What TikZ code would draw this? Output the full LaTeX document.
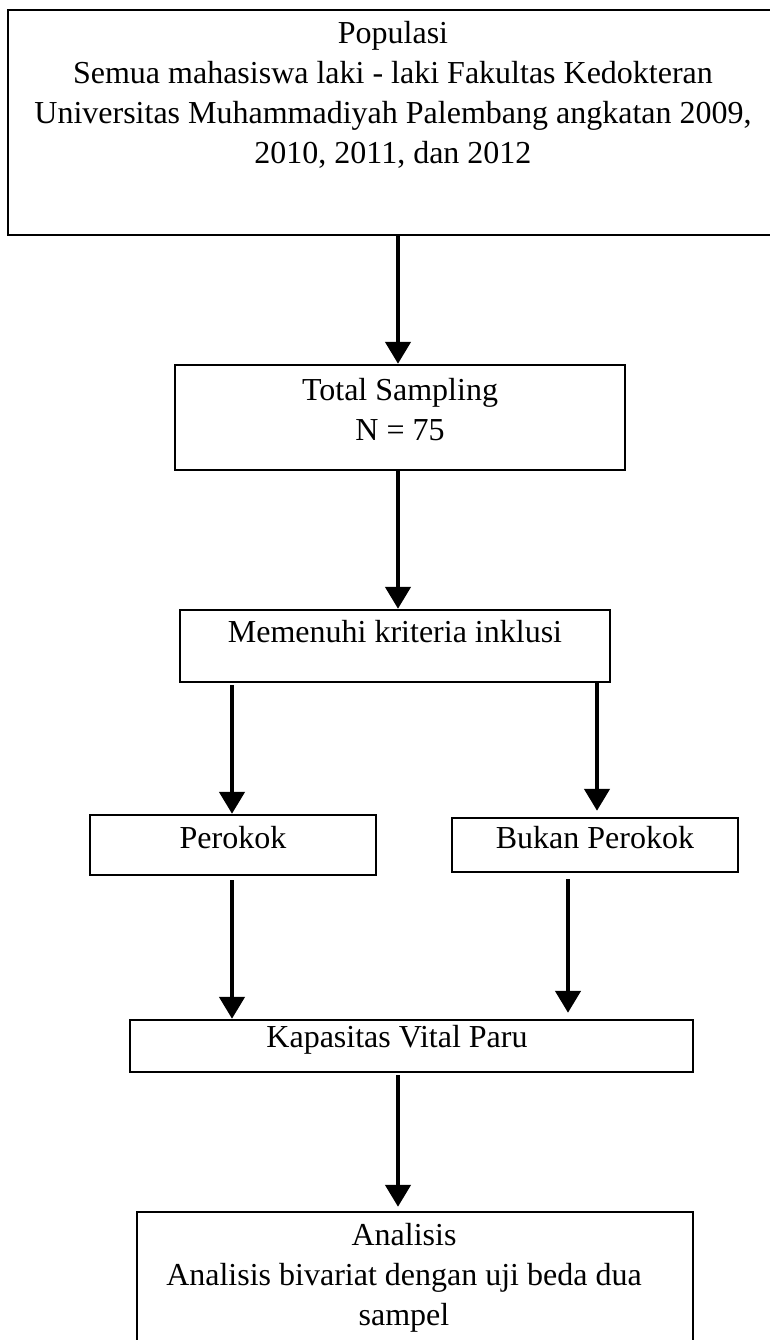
\documentclass[tikz,border=0pt]{standalone}
\usepackage{fontspec}
\setmainfont{Liberation Serif}
\usetikzlibrary{arrows.meta}

\begin{document}
\begin{tikzpicture}[x=0.5pt, y=-0.5pt,
    box/.style={draw, line width=1.2pt, inner sep=0pt},
    txt/.style={align=center, inner sep=0pt, font=\fontsize{16}{20}\selectfont},
    arr/.style={line width=2.3pt, -{Triangle[width=12.5pt,length=11pt]}}]
    \useasboundingbox (0,0) rectangle (770,1340);

    % Boxes
    \node[box, minimum width=387pt, minimum height=112.5pt] (pop) at (395,122.5) {};
    \node[box, minimum width=225pt, minimum height=52.5pt] (total) at (400,417.5) {};
    \node[box, minimum width=215pt, minimum height=36pt] (inklusi) at (395,646) {};
    \node[box, minimum width=143pt, minimum height=30pt] (perokok) at (233,845) {};
    \node[box, minimum width=143pt, minimum height=27pt] (bukan) at (595,845) {};
    \node[box, minimum width=281.5pt, minimum height=26pt] (kvp) at (411.5,1046) {};
    \node[box, minimum width=278pt, minimum height=74pt] (analisis) at (415,1286) {};

    % Texts
    \node[txt] (poptxt) at (393,95) {Populasi\\Semua mahasiswa laki - laki Fakultas Kedokteran\\Universitas Muhammadiyah Palembang angkatan 2009,\\2010, 2011, dan 2012};
    \node[txt] (totaltxt) at (400,410) {Total Sampling\\N = 75};
    \node[txt] (inklusitxt) at (395,632) {Memenuhi kriteria inklusi};
    \node[txt] (perokoktxt) at (233,838) {Perokok};
    \node[txt] (bukantxt) at (595,838) {Bukan Perokok};
    \node[txt] (kvptxt) at (397,1040) {Kapasitas Vital Paru};
    \node[txt] (analisistxt) at (404,1278) {Analisis\\Analisis bivariat dengan uji beda dua\\sampel};

    % Arrow columns
    \coordinate (midcol) at (398,0);
    \coordinate (leftcol) at (232,0);
    \coordinate (rightcol) at (597,0);
    \coordinate (rightlow) at (568,0);

    \draw[arr] (pop.south -| midcol) -- (total.north -| midcol);
    \draw[arr] (total.south -| midcol) -- (inklusi.north -| midcol);
    \draw[arr] ([yshift=-1pt]inklusi.south -| leftcol) -- (perokok.north -| leftcol);
    \draw[arr] (inklusi.south -| rightcol) -- ([yshift=3pt]bukan.north -| rightcol);
    \draw[arr] ([yshift=-2pt]perokok.south -| leftcol) -- (kvp.north -| leftcol);
    \draw[arr] ([yshift=-3pt]bukan.south -| rightlow) -- ([yshift=3pt]kvp.north -| rightlow);
    \draw[arr] ([yshift=-1pt]kvp.south -| midcol) -- ([yshift=2pt]analisis.north -| midcol);
\end{tikzpicture}
\end{document}
